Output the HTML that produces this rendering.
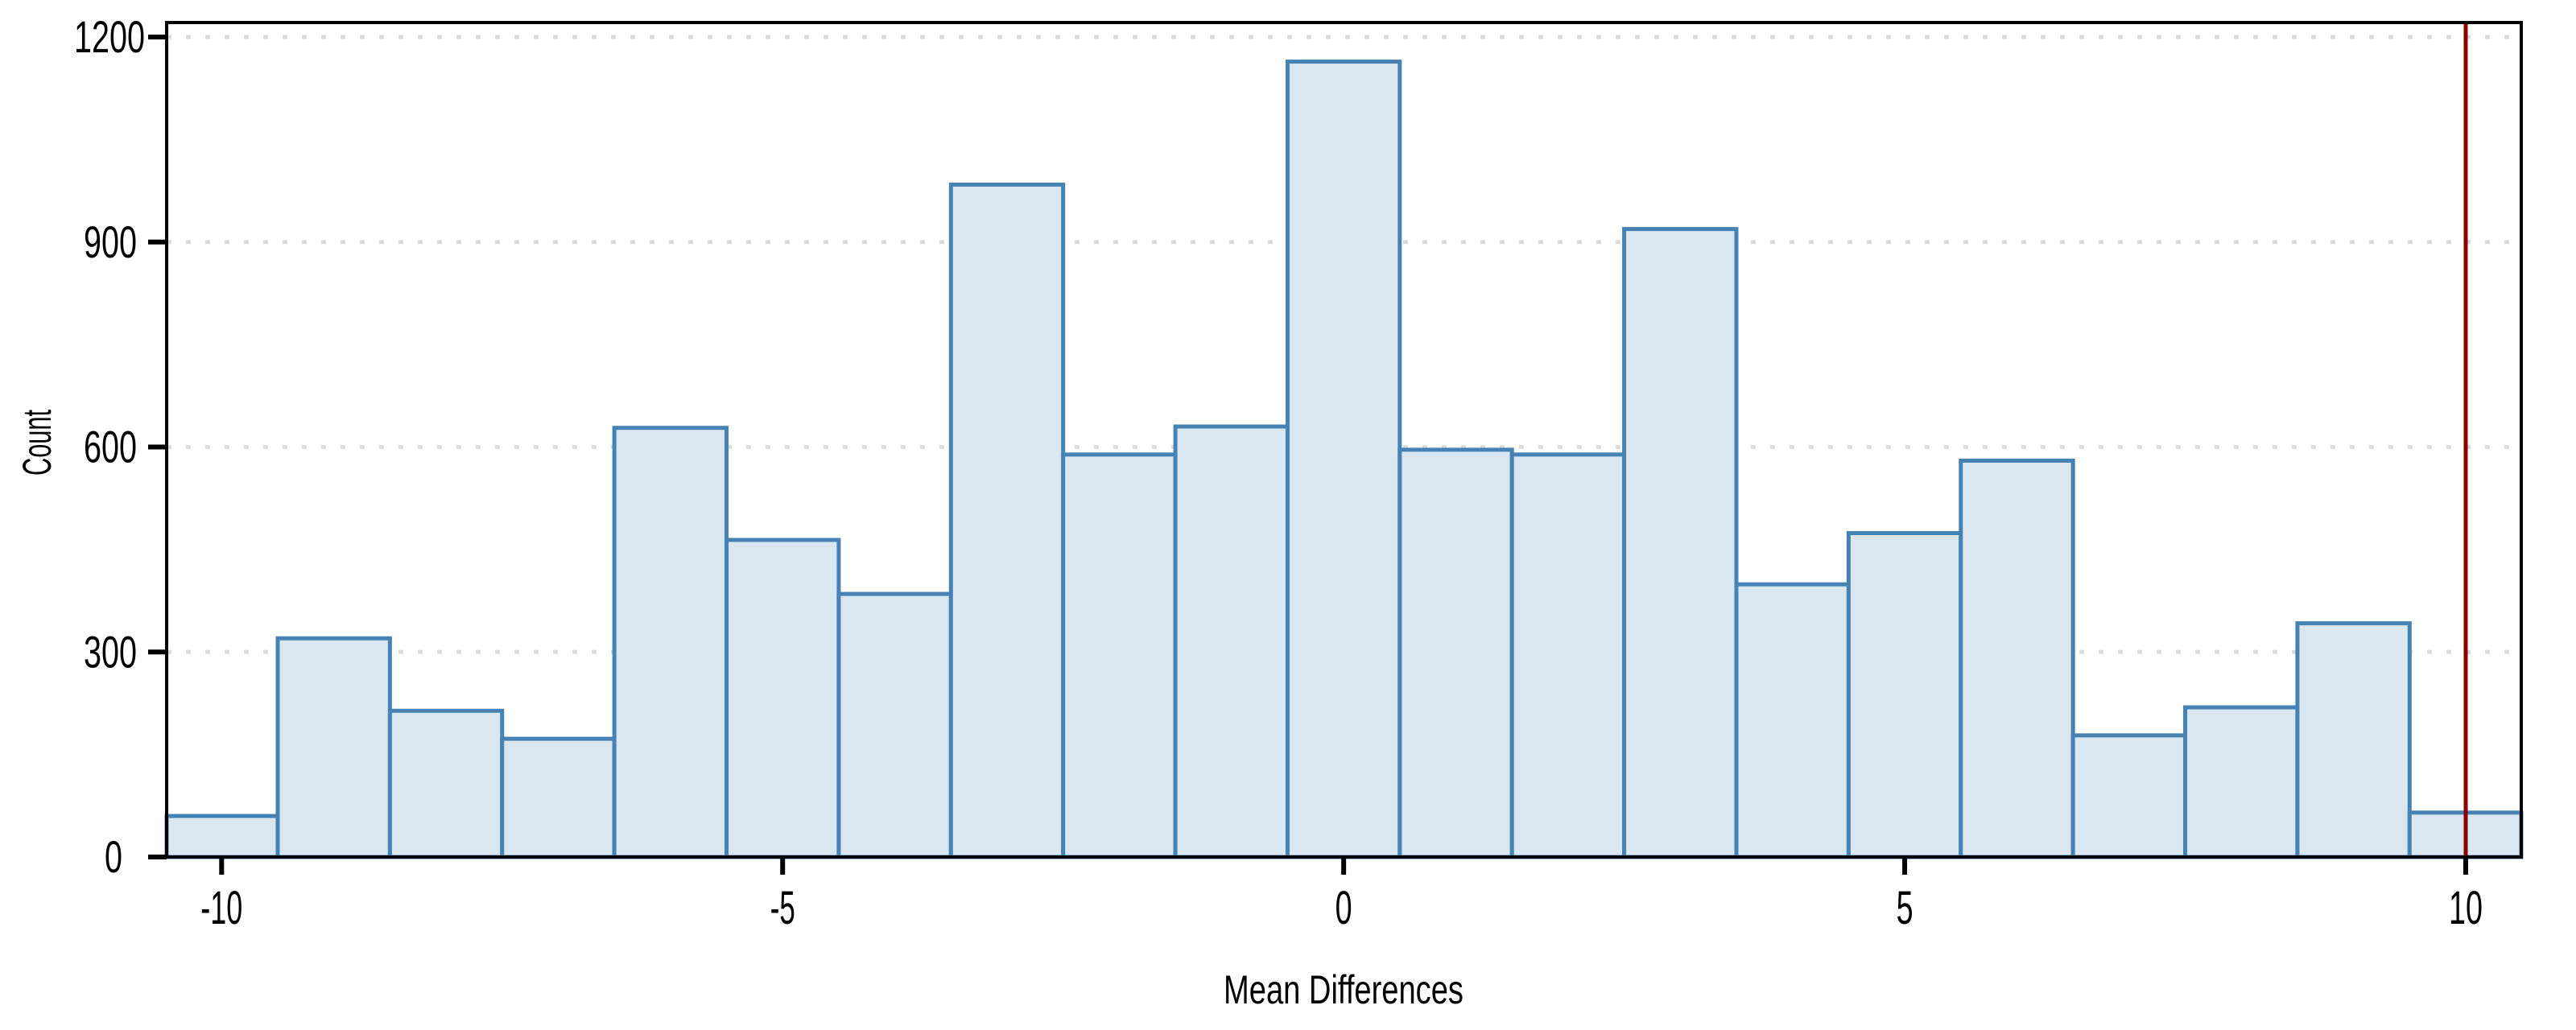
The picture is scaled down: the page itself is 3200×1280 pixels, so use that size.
<!DOCTYPE html>
<html><head><meta charset="utf-8"><style>
html,body{margin:0;padding:0;background:#fff;}
svg{display:block;}
text{font-family:"Liberation Sans Narrow","Liberation Sans",sans-serif;fill:#000;}
</style></head><body>
<svg id="chart" width="3200" height="1280" viewBox="0 0 3200 1280" xmlns="http://www.w3.org/2000/svg">
<g id="grid"></g>
<g id="bars"></g>
<g id="axes"></g>
</svg>
<script>
const binCenters = [-10,-9,-8,-7,-6,-5,-4,-3,-2,-1,0,1,2,3,4,5,6,7,8,9,10];
const counts = [60,320,214,173,628,464,385,984,589,630,1164,596,589,919,399,474,580,178,219,342,65];
const yTicks = [0,300,600,900,1200];
const xTicks = [-10,-5,0,5,10];
const refLine = [10];

const L=207,R=3132,T=28,B=1065;
const X0=-10.49,X1=10.495;
function sx(v){return L+(v-X0)/(X1-X0)*(R-L);}
function sy(v){return B-(v/1200)*(B-46);}
const NS="http://www.w3.org/2000/svg";
function mk(tag,attrs,parent){const e=document.createElementNS(NS,tag);for(const k in attrs)e.setAttribute(k,attrs[k]);parent.appendChild(e);return e;}
const grid=document.getElementById('grid'),bars=document.getElementById('bars'),axes=document.getElementById('axes');

yTicks.forEach(t=>{
  if(t===0)return;
  const g=mk('line',{x1:L,x2:R,y1:sy(t),y2:sy(t),stroke:'#dcdcdc','stroke-width':5,'stroke-dasharray':'6 18'},grid);
  
  
});

binCenters.forEach((c,i)=>{
  const x1=Math.max(sx(c-0.5),L), x2=Math.min(sx(c+0.5),R);
  const r=mk('rect',{x:x1,y:sy(counts[i]),width:x2-x1,height:B-sy(counts[i]),fill:'#dae6f0',stroke:'#4682b4','stroke-width':5},bars);
  
  
});

refLine.forEach(v=>{
  const l=mk('line',{x1:sx(v),x2:sx(v),y1:T,y2:B,stroke:'#8b0000','stroke-width':5},bars);
  
  
});

const frame=mk('rect',{x:L,y:T,width:R-L,height:B-T,fill:'none',stroke:'#000','stroke-width':4},axes);



yTicks.forEach(t=>{
  const tk=mk('line',{x1:184,x2:L,y1:sy(t),y2:sy(t),stroke:'#000','stroke-width':6},axes);
  
  
  const s=String(t);
  const tx=mk('text',{x:t===0?152:(t===1200?180:170),y:sy(t)+19,'text-anchor':'end','font-size':56,textLength:s.length*22,lengthAdjust:'spacingAndGlyphs'},axes);
  tx.textContent=s;
  
  
});

xTicks.forEach(t=>{
  const tk=mk('line',{x1:sx(t),x2:sx(t),y1:B,y2:1087,stroke:'#000','stroke-width':6},axes);
  
  
  const s=String(t);
  const w=s.replace('-','').length*21+(s.includes('-')?10:0);
  const tx=mk('text',{x:sx(t),y:1148,'text-anchor':'middle','font-size':58,textLength:w,lengthAdjust:'spacingAndGlyphs'},axes);
  tx.textContent=s;
  
  
});
</script>
<svg style="position:absolute;left:0;top:0" width="3200" height="1280">
<text x="1669" y="1247" text-anchor="middle" font-size="50" textLength="298" lengthAdjust="spacingAndGlyphs">Mean Differences</text>
<text transform="translate(63,550) rotate(-90)" text-anchor="middle" font-size="50" textLength="82" lengthAdjust="spacingAndGlyphs">Count</text>
</svg>
</body></html>
